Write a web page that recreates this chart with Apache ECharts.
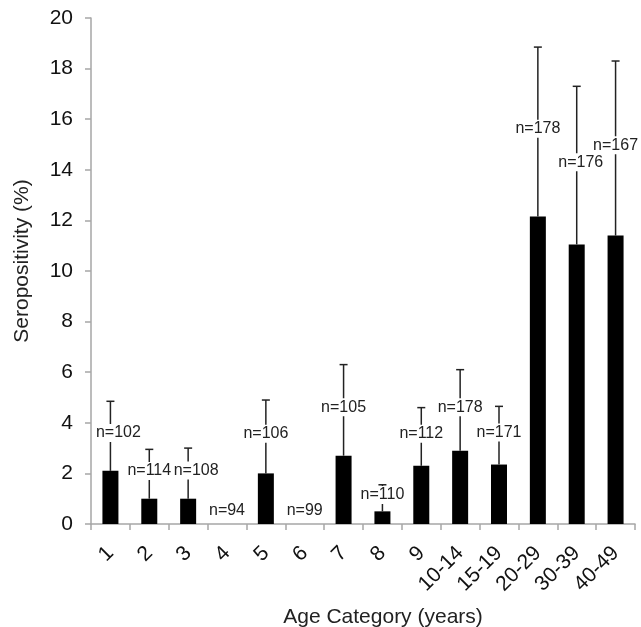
<!DOCTYPE html>
<html>
<head>
<meta charset="utf-8">
<script src="https://cdn.jsdelivr.net/npm/echarts@6/dist/echarts.min.js"></script>
<style>
  html, body { margin: 0; padding: 0; background: #fff; }
  #chart { width: 641px; height: 627px; }
</style>
</head>
<body>
<div id="chart"></div>
<script>
// age groups on the x axis
const ageCategories = ['1', '2', '3', '4', '5', '6', '7', '8', '9', '10-14', '15-19', '20-29', '30-39', '40-49'];
// seropositivity (%) per group
const seroPct = [2.1, 1.0, 1.0, 0, 2.0, 0, 2.7, 0.5, 2.3, 2.9, 2.35, 12.15, 11.05, 11.4];
// upper end of the error bar (%), null = no error bar
const errUpper = [4.85, 2.95, 3.0, null, 4.9, null, 6.3, 1.55, 4.6, 6.1, 4.65, 18.85, 17.3, 18.3];
// sample size per group
const sampleN = [102, 114, 108, 94, 106, 99, 105, 110, 112, 178, 171, 178, 176, 167];

const yTicks = [0, 20, 2]; // min, max, step

const chart = echarts.init(document.getElementById('chart'));

const errData = ageCategories.map((c, i) => [i, seroPct[i], errUpper[i], sampleN[i]]);
const FONT = '"Liberation Sans", Arial, sans-serif';
// a couple of n= labels sit a bit to the right so neighbours don't collide
const labelNudge = { 0: 8, 2: 8, 12: 4 };

// error bar + "n=" label drawn in one custom series
function renderErr(params, api) {
  const i = api.value(0);
  const low = api.value(1);
  const high = api.value(2);
  const n = api.value(3);
  const children = [];
  const base = api.coord([i, low]);
  let labelY;
  if (high != null && !isNaN(high)) {
    const top = api.coord([i, high]);
    children.push({
      type: 'line',
      shape: { x1: base[0], y1: base[1], x2: top[0], y2: top[1] },
      style: { stroke: '#222', lineWidth: 1.5 }
    });
    children.push({
      type: 'line',
      shape: { x1: top[0] - 4, y1: top[1], x2: top[0] + 4, y2: top[1] },
      style: { stroke: '#222', lineWidth: 1.5 }
    });
    labelY = (base[1] + top[1]) / 2 - 3;
  } else {
    labelY = base[1] - 13;
  }
  children.push({
    type: 'text',
    x: base[0] + (labelNudge[i] || 0),
    y: labelY,
    style: {
      text: 'n=' + n,
      fill: '#222',
      font: '16px ' + FONT,
      align: 'center',
      verticalAlign: 'middle',
      backgroundColor: '#fff',
      padding: [1, 0]
    },
    z2: 10
  });
  return { type: 'group', children: children };
}

chart.setOption({
  animation: false,
  backgroundColor: '#fff',
  grid: { left: 91, right: 6, top: 18, bottom: 103, outerBoundsMode: 'none', containLabel: false },
  xAxis: {
    type: 'category',
    data: ageCategories,
    name: 'Age Category (years)',
    nameLocation: 'middle',
    nameGap: 83,
    nameTextStyle: { color: '#222', fontSize: 21, fontFamily: FONT, padding: [0, 0, 0, 40] },
    axisLine: { lineStyle: { color: '#a6a6a6', width: 1.5 } },
    axisTick: { show: true, length: 6, lineStyle: { color: '#a6a6a6', width: 1.5 } },
    axisLabel: {
      rotate: 45,
      margin: 26,
      interval: 0,
      color: '#111',
      fontSize: 21,
      fontFamily: FONT
    },
    splitLine: { show: false }
  },
  yAxis: {
    type: 'value',
    min: yTicks[0],
    max: yTicks[1],
    interval: yTicks[2],
    name: 'Seropositivity (%)',
    nameLocation: 'middle',
    nameGap: 58,
    nameRotate: 90,
    nameTextStyle: { color: '#222', fontSize: 21, fontFamily: FONT, padding: [0, 0, 0, 20] },
    axisLine: { show: true, lineStyle: { color: '#a6a6a6', width: 1.5 } },
    axisTick: { show: true, length: 6, lineStyle: { color: '#a6a6a6', width: 1.5 } },
    axisLabel: {
      margin: 18,
      color: '#111',
      fontSize: 21,
      fontFamily: FONT
    },
    splitLine: { show: false }
  },
  series: [
    {
      type: 'bar',
      data: seroPct,
      barWidth: 16,
      itemStyle: { color: '#000' },
      z: 2
    },
    {
      type: 'custom',
      data: errData,
      renderItem: renderErr,
      encode: { x: 0, y: [1, 2] },
      z: 3
    }
  ]
});
</script>
</body>
</html>
